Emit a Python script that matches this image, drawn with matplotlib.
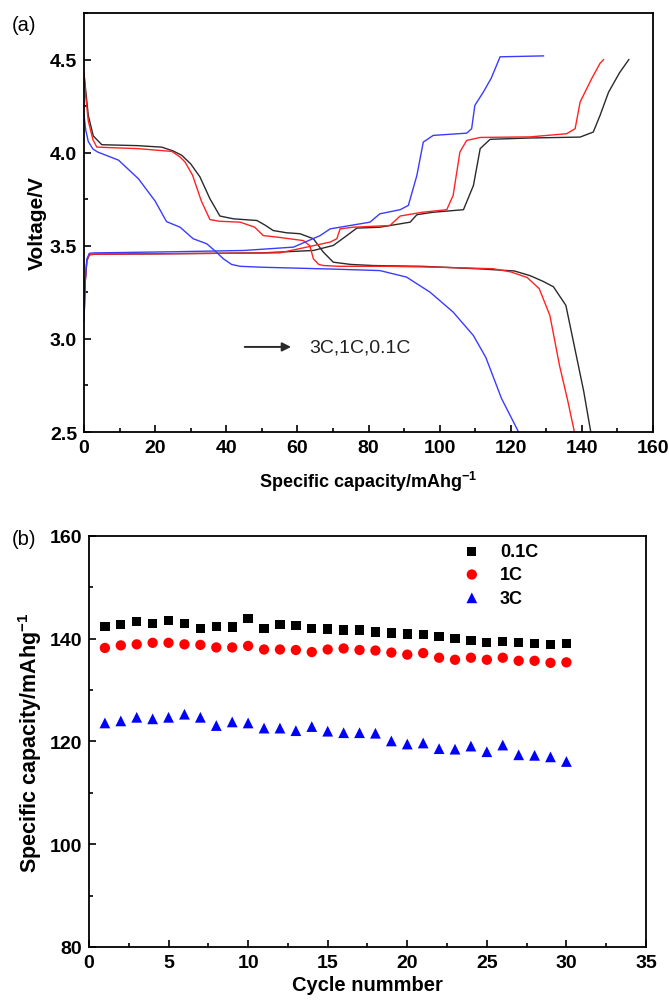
import matplotlib
matplotlib.use("Agg")
import matplotlib.pyplot as plt
from matplotlib.ticker import MultipleLocator

plt.rcParams['font.family'] = ['Liberation Sans', 'DejaVu Sans']
plt.rcParams['mathtext.fontset'] = 'custom'
plt.rcParams['mathtext.bf'] = 'Liberation Sans:bold'
plt.rcParams['mathtext.rm'] = 'Liberation Sans:bold'

# ---- panel (a): charge/discharge curves (capacity mAh/g, voltage V) ----
dis_01C_x = [0, 0.5, 1.2, 2.6, 5.0, 15, 21.8, 25, 27.5, 30, 32.6, 35.4, 38.2, 42, 48.6, 51, 53.2, 57,
             60.7, 64.5, 67.3, 70.1, 75, 81.4, 95, 111.4, 121, 125.4, 129, 132, 135.5, 138, 140.5, 142.5]
dis_01C_y = [4.42, 4.33, 4.2, 4.09, 4.043, 4.038, 4.03, 4.01, 3.986, 3.94, 3.87, 3.753, 3.66, 3.645, 3.636,
             3.61, 3.582, 3.57, 3.565, 3.538, 3.466, 3.412, 3.40, 3.394, 3.39, 3.376, 3.365, 3.34, 3.31,
             3.28, 3.18, 2.95, 2.72, 2.5]

dis_1C_x = [0, 0.5, 1.2, 2.5, 3.6, 15, 24.7, 27, 28.4, 30.5, 33, 35.4, 38, 43.9, 48, 50.4, 55, 61.7,
            63.5, 64.5, 66, 67.3, 72, 85, 100, 115, 120, 124.6, 128, 131, 133.7, 136, 137.9]
dis_1C_y = [4.43, 4.3, 4.17, 4.07, 4.03, 4.022, 4.007, 3.977, 3.95, 3.88, 3.74, 3.641, 3.632, 3.627, 3.6,
            3.555, 3.545, 3.528, 3.5, 3.43, 3.40, 3.394, 3.39, 3.39, 3.385, 3.377, 3.36, 3.33, 3.27,
            3.126, 2.858, 2.67, 2.5]

dis_3C_x = [0, 0.5, 1.2, 2.5, 3.8, 9.7, 15.3, 20, 23.2, 27, 30.7, 34.5, 37, 39.2, 41.5, 43.9, 50, 60,
            70, 83.2, 90.7, 97.3, 103.8, 109.5, 113, 117.4, 122.2]
dis_3C_y = [4.2, 4.12, 4.06, 4.02, 4.004, 3.96, 3.86, 3.74, 3.63, 3.6, 3.538, 3.511, 3.47, 3.43, 3.40,
            3.39, 3.385, 3.38, 3.375, 3.367, 3.332, 3.251, 3.144, 3.018, 2.9, 2.68, 2.5]

chg_01C_x = [0, 0.3, 0.8, 1.5, 3, 20, 50, 64.5, 70.1, 73.9, 76.7, 83.2, 91.7, 93.6, 98, 106.7, 109.5,
             111.4, 114.2, 125.4, 139.5, 143.2, 145.1, 147.5, 150.6, 153.2]
chg_01C_y = [3.1, 3.3, 3.42, 3.452, 3.455, 3.457, 3.462, 3.475, 3.502, 3.555, 3.595, 3.6, 3.627, 3.667,
             3.68, 3.694, 3.824, 4.022, 4.072, 4.079, 4.084, 4.111, 4.2, 4.325, 4.43, 4.5]

chg_1C_x = [0, 0.3, 0.8, 1.5, 3, 20, 55, 62.6, 69.2, 71.1, 72, 75.7, 86, 88.9, 95, 102, 103.8, 105.7,
            107.6, 111.4, 125.4, 135.7, 138.1, 139.5, 142.7, 145.1, 146.1]
chg_1C_y = [3.1, 3.3, 3.42, 3.452, 3.455, 3.457, 3.462, 3.493, 3.52, 3.538, 3.591, 3.6, 3.609, 3.66,
            3.68, 3.694, 3.771, 4.004, 4.066, 4.082, 4.085, 4.102, 4.129, 4.272, 4.396, 4.48, 4.5]

chg_3C_x = [0, 0.3, 0.8, 1.5, 3, 25, 45, 58.9, 66.4, 69.2, 72, 74.8, 80.4, 83.2, 88.9, 91.2, 93.6, 95.4,
            98.2, 107.6, 109, 109.9, 112.3, 114.5, 117, 129.2]
chg_3C_y = [3.1, 3.3, 3.43, 3.46, 3.462, 3.468, 3.475, 3.493, 3.555, 3.591, 3.6, 3.609, 3.627, 3.672,
            3.694, 3.717, 3.878, 4.057, 4.093, 4.105, 4.129, 4.254, 4.326, 4.4, 4.515, 4.52]

# ---- panel (b): cycling at different rates ----
cycles = list(range(1, 31))
cap_01C = [142.4, 142.7, 143.4, 143.0, 143.6, 143.0, 142.0, 142.4, 142.3, 143.9,
           142.0, 142.7, 142.6, 142.0, 141.9, 141.7, 141.7, 141.3, 141.1, 140.9,
           140.8, 140.4, 140.0, 139.6, 139.3, 139.4, 139.3, 139.1, 138.9, 139.1]
cap_1C = [138.2, 138.7, 138.9, 139.2, 139.2, 138.9, 138.8, 138.3, 138.3, 138.6,
          137.9, 137.9, 137.8, 137.4, 137.9, 138.1, 137.8, 137.7, 137.3, 136.9,
          137.2, 136.3, 135.9, 136.3, 135.9, 136.3, 135.7, 135.7, 135.3, 135.4]
cap_3C = [123.6, 124.0, 124.7, 124.4, 124.7, 125.3, 124.7, 123.1, 123.8, 123.6,
          122.6, 122.6, 122.1, 122.9, 122.0, 121.7, 121.7, 121.6, 120.1, 119.5,
          119.7, 118.6, 118.5, 119.1, 118.0, 119.3, 117.4, 117.3, 117.0, 116.1]

fig = plt.figure(figsize=(6.69, 10.04), dpi=100)
ax1 = fig.add_axes([0.1256, 0.5687, 0.8505, 0.4173])
ax2 = fig.add_axes([0.1330, 0.0558, 0.8326, 0.4094])

lw = 1.0
black, red, blue = '#2a2a2a', '#ff2222', '#3b3bff'
ax1.plot(dis_01C_x, dis_01C_y, color=black, lw=lw)
ax1.plot(chg_01C_x, chg_01C_y, color=black, lw=lw)
ax1.plot(dis_1C_x, dis_1C_y, color=red, lw=lw)
ax1.plot(chg_1C_x, chg_1C_y, color=red, lw=lw)
ax1.plot(dis_3C_x, dis_3C_y, color=blue, lw=lw)
ax1.plot(chg_3C_x, chg_3C_y, color=blue, lw=lw)

ax1.set_xlim(0, 160)
ax1.set_ylim(2.5, 4.75)
ax1.xaxis.set_major_locator(MultipleLocator(20))
ax1.xaxis.set_minor_locator(MultipleLocator(10))
ax1.yaxis.set_major_locator(MultipleLocator(0.5))
ax1.yaxis.set_minor_locator(MultipleLocator(0.25))
ax1.annotate('', xy=(59.0, 2.957), xytext=(44.4, 2.957),
             arrowprops=dict(arrowstyle='-|>', color=black, lw=1.4, mutation_scale=13))
ax1.text(63.2, 2.957, '3C,1C,0.1C', fontsize=14, va='center', ha='left', color='#222222')
ax1.set_xlabel('Specific capacity/mAhg$^{\\mathbf{-1}}$', fontsize=13, fontweight='bold', labelpad=9)
ax1.set_ylabel('Voltage/V', fontsize=15, fontweight='bold', labelpad=2)
fig.text(0.018, 0.984, '(a)', fontsize=14.5, va='top', ha='left')

ax2.scatter(cycles, cap_01C, marker='s', s=45, color='black', label='0.1C', edgecolors='none')
ax2.scatter(cycles, cap_1C, marker='o', s=55, color='red', label='1C', edgecolors='none')
ax2.scatter(cycles, cap_3C, marker='^', s=60, color='blue', label='3C', edgecolors='none')
ax2.set_xlim(0, 35)
ax2.set_ylim(80, 160)
ax2.xaxis.set_major_locator(MultipleLocator(5))
ax2.xaxis.set_minor_locator(MultipleLocator(2.5))
ax2.yaxis.set_major_locator(MultipleLocator(20))
ax2.yaxis.set_minor_locator(MultipleLocator(10))
ax2.set_xlabel('Cycle nummber', fontsize=14.5, fontweight='bold', labelpad=3)
ax2.set_ylabel('Specific capacity/mAhg$^{\\mathbf{-1}}$', fontsize=15.5, fontweight='bold', labelpad=4)
ax2.legend(loc='upper left', bbox_to_anchor=(0.663, 0.983), frameon=False, borderpad=0,
           borderaxespad=0, handlelength=1.5, handletextpad=0.8, labelspacing=0.35,
           scatterpoints=1, prop={'weight': 'bold', 'size': 13})
fig.text(0.018, 0.463, '(b)', fontsize=14.5, va='center', ha='left')

for ax in (ax1, ax2):
    for sp in ax.spines.values():
        sp.set_linewidth(1.3)
    ax.tick_params(which='both', direction='in', top=False, right=False, width=1.2)
    ax.tick_params(which='major', length=5, labelsize=14, pad=5)
    ax.tick_params(which='minor', length=3)
    for lab in ax.get_xticklabels() + ax.get_yticklabels():
        lab.set_fontweight('bold')

fig.savefig('out.png', dpi=100)
